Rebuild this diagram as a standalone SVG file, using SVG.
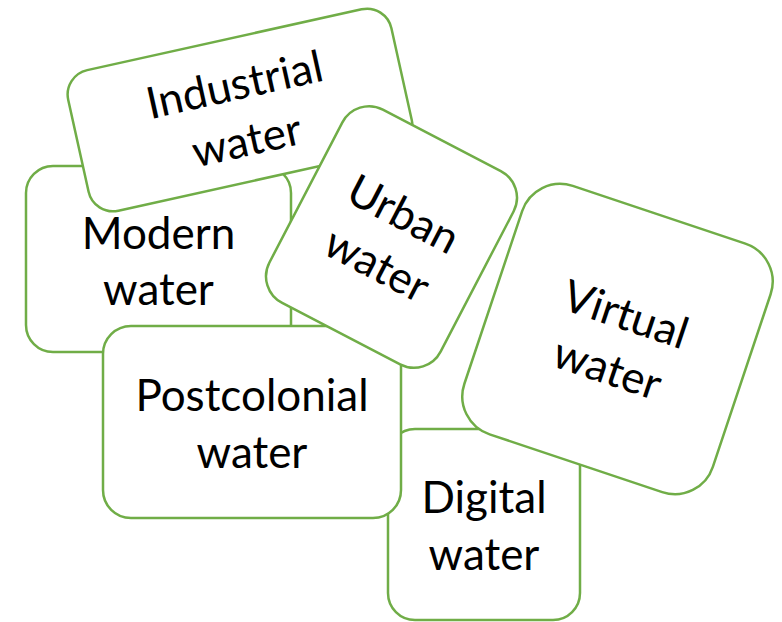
<svg xmlns="http://www.w3.org/2000/svg" width="782" height="622" viewBox="0 0 782 622">
<style>
.box{fill:#fff;stroke:#70AD47;stroke-width:2.5}
.t{font-family:Lato,"Liberation Sans",sans-serif;font-size:44px;fill:#000;text-anchor:middle}
</style>
<rect width="782" height="622" fill="#fff"/>
<g id="connectors"></g>
<g id="modern">
<rect class="box" x="26" y="166" width="265" height="186" rx="27"/>
<text class="t" x="158.5" y="249">Modern</text>
<text class="t" x="158.5" y="305">water</text>
</g>
<g id="industrial" transform="translate(240,110) rotate(-12.5)">
<rect class="box" x="-165.5" y="-72" width="331" height="144" rx="25"/>
<text class="t" x="0" y="-10.5">Industrial</text>
<text class="t" x="0" y="46.5">water</text>
</g>
<g id="digital">
<rect class="box" x="388" y="429" width="192" height="191" rx="27"/>
<text class="t" x="484" y="513">Digital</text>
<text class="t" x="484" y="570">water</text>
</g>
<g id="postcolonial">
<rect class="box" x="103" y="326" width="298" height="192" rx="28"/>
<text class="t" x="252" y="411">Postcolonial</text>
<text class="t" x="252" y="468">water</text>
</g>
<g id="urban" transform="translate(391.5,237) rotate(27.5)">
<rect class="box" x="-96.5" y="-109" width="193" height="218" rx="30"/>
<text class="t" x="0" y="-10.5">Urban</text>
<text class="t" x="0" y="46.5">water</text>
</g>
<g id="virtual" transform="translate(617.5,339) rotate(18.5)">
<rect class="box" x="-131" y="-131" width="262" height="262" rx="40"/>
<text class="t" x="0" y="-10.5">Virtual</text>
<text class="t" x="0" y="46.5">water</text>
</g>
</svg>
